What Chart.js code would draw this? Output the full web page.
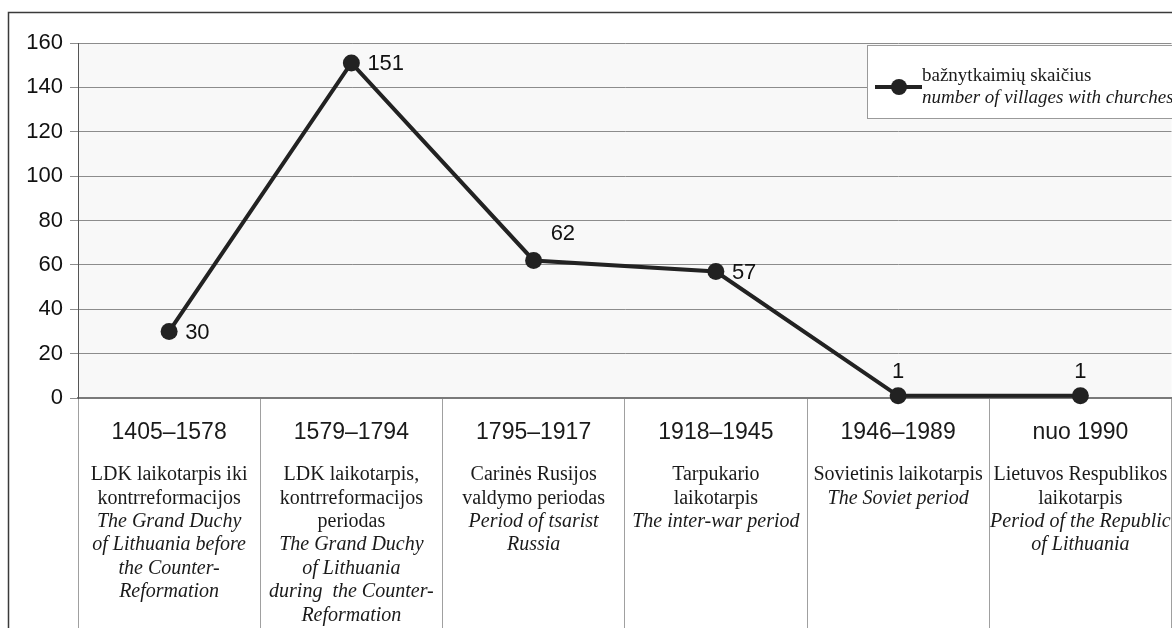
<!DOCTYPE html>
<html>
<head>
<meta charset="utf-8">
<script src="https://cdn.jsdelivr.net/npm/chart.js@4/dist/chart.umd.min.js"></script>
<style>
  html, body { margin: 0; padding: 0; background: #fff; overflow: hidden; }
  #wrap { position: relative; width: 1180px; height: 628px; }
</style>
</head>
<body>
<div id="wrap"><canvas id="c"></canvas></div>
<script>
// ---- data ----
const periods = ['1405–1578', '1579–1794', '1795–1917', '1918–1945', '1946–1989', 'nuo 1990'];
const ltLabels = [
  ['LDK laikotarpis iki', 'kontrreformacijos'],
  ['LDK laikotarpis,', 'kontrreformacijos', 'periodas'],
  ['Carinės Rusijos', 'valdymo periodas'],
  ['Tarpukario', 'laikotarpis'],
  ['Sovietinis laikotarpis'],
  ['Lietuvos Respublikos', 'laikotarpis']
];
const enLabels = [
  ['The Grand Duchy', 'of Lithuania before', 'the Counter-', 'Reformation'],
  ['The Grand Duchy', 'of Lithuania', 'during  the Counter-', 'Reformation'],
  ['Period of tsarist', 'Russia'],
  ['The inter-war period'],
  ['The Soviet period'],
  ['Period of the Republic', 'of Lithuania']
];
const villages = [30, 151, 62, 57, 1, 1];
const seriesNameLt = 'bažnytkaimių skaičius';
const seriesNameEn = 'number of villages with churches';
const yTicks = { min: 0, max: 160, step: 20 };

const SANS = '"Liberation Sans", Arial, sans-serif';
const SERIF = '"Liberation Serif", "Times New Roman", serif';
const INK = '#222';

const framePlugin = {
  id: 'frame',
  beforeDraw(chart) {
    const { ctx, chartArea: a } = chart;
    ctx.save();
    ctx.fillStyle = '#f8f8f8';
    ctx.fillRect(a.left, a.top, a.right - a.left, a.bottom - a.top);
    ctx.strokeStyle = '#3a3a3a';
    ctx.lineWidth = 1.5;
    ctx.beginPath();
    ctx.moveTo(8.5, chart.height + 2);
    ctx.lineTo(8.5, 12.5);
    ctx.lineTo(chart.width + 2, 12.5);
    ctx.stroke();
    ctx.restore();
  }
};

const categoryLabelPlugin = {
  id: 'catLabels',
  afterDraw(chart) {
    const { ctx } = chart;
    const xs = chart.scales.x;
    const base = chart.chartArea.bottom;
    ctx.save();
    ctx.fillStyle = '#1a1a1a';
    ctx.textAlign = 'center';
    ctx.textBaseline = 'middle';
    periods.forEach((p, i) => {
      const cx = xs.getPixelForValue(i);
      ctx.font = '23px ' + SANS;
      ctx.fillText(p, cx, base + 35);
      let y = base + 77;
      ctx.font = '20px ' + SERIF;
      ltLabels[i].forEach(t => { ctx.fillText(t, cx, y); y += 23.4; });
      ctx.font = 'italic 20px ' + SERIF;
      enLabels[i].forEach(t => { ctx.fillText(t, cx, y); y += 23.4; });
    });
    ctx.restore();
  }
};

const legendPlugin = {
  id: 'customLegend',
  afterDraw(chart) {
    const { ctx } = chart;
    const x0 = 867.5, y0 = 45.5, y1 = 118.5;
    ctx.save();
    ctx.fillStyle = '#fff';
    ctx.fillRect(x0, y0, chart.width - x0 + 5, y1 - y0);
    ctx.strokeStyle = '#9a9a9a';
    ctx.lineWidth = 1;
    ctx.strokeRect(x0, y0, chart.width - x0 + 5, y1 - y0);
    // marker
    ctx.strokeStyle = INK;
    ctx.lineWidth = 4;
    ctx.beginPath();
    ctx.moveTo(875, 87);
    ctx.lineTo(922, 87);
    ctx.stroke();
    ctx.fillStyle = INK;
    ctx.beginPath();
    ctx.arc(899, 87, 8, 0, Math.PI * 2);
    ctx.fill();
    // text
    ctx.fillStyle = '#1a1a1a';
    ctx.textAlign = 'left';
    ctx.textBaseline = 'middle';
    ctx.font = '19px ' + SERIF;
    ctx.fillText(seriesNameLt, 922, 76);
    ctx.font = 'italic 19px ' + SERIF;
    ctx.fillText(seriesNameEn, 922, 98);
    ctx.restore();
  }
};

const valueLabelPlugin = {
  id: 'valueLabels',
  afterDatasetsDraw(chart, args, opts) {
    const { ctx } = chart;
    const meta = chart.getDatasetMeta(0);
    const place = opts.placement || [];
    ctx.save();
    ctx.fillStyle = '#111';
    ctx.font = '22px ' + SANS;
    ctx.textBaseline = 'middle';
    meta.data.forEach((pt, i) => {
      const v = chart.data.datasets[0].data[i];
      const p = place[i] || 'right';
      if (p === 'right') {
        ctx.textAlign = 'left';
        ctx.fillText(String(v), pt.x + 16, pt.y + 1);
      } else if (p === 'upper-right') {
        ctx.textAlign = 'left';
        ctx.fillText(String(v), pt.x + 17, pt.y - 27);
      } else {
        ctx.textAlign = 'center';
        ctx.fillText(String(v), pt.x, pt.y - 24);
      }
    });
    ctx.restore();
  }
};

new Chart(document.getElementById('c'), {
  type: 'line',
  data: {
    labels: periods,
    datasets: [{
      label: seriesNameLt,
      data: villages,
      borderColor: INK,
      backgroundColor: INK,
      borderWidth: 4,
      pointRadius: 8.5,
      pointHoverRadius: 8.5,
      pointBackgroundColor: INK,
      pointBorderWidth: 0,
      tension: 0,
      clip: false
    }]
  },
  options: {
    responsive: true,
    maintainAspectRatio: false,
    animation: false,
    events: [],
    layout: { padding: { top: 43, left: 0, right: 2, bottom: 0 } },
    plugins: {
      legend: { display: false },
      tooltip: { enabled: false },
      title: { display: false },
      valueLabels: { placement: ['right', 'right', 'upper-right', 'right', 'top', 'top'] }
    },
    scales: {
      x: {
        type: 'category',
        offset: true,
        grid: {
          offset: true,
          drawOnChartArea: false,
          drawTicks: true,
          tickLength: 230,
          color: '#a0a0a0',
          lineWidth: 1
        },
        border: { display: true, color: '#7a7a7a', width: 2 },
        ticks: { display: false }
      },
      y: {
        min: yTicks.min,
        max: yTicks.max,
        afterFit(scale) { scale.width = 78; },
        grid: {
          color: '#8c8c8c',
          lineWidth: 1,
          tickLength: 8,
          drawTicks: true
        },
        border: { display: true, color: '#555', width: 1 },
        ticks: {
          stepSize: yTicks.step,
          padding: 7,
          color: '#111',
          font: { family: SANS, size: 22 }
        }
      }
    }
  },
  plugins: [framePlugin, categoryLabelPlugin, legendPlugin, valueLabelPlugin]
});
</script>
</body>
</html>
